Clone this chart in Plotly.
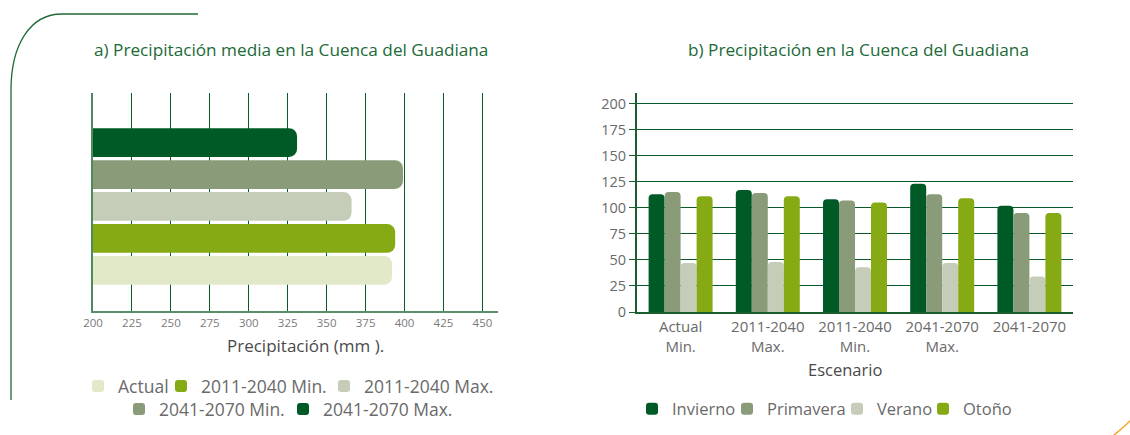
import plotly.graph_objects as go

W, H = 1130, 435

# ---- Data: chart a (mean precipitation, mm) ----
scen_a = ["Actual", "2011-2040 Min.", "2011-2040 Max.", "2041-2070 Min.", "2041-2070 Max."]
precip_a = [392, 394, 366, 399, 331]
colors_a = ["#e2e9c9", "#86aa14", "#c5cdb9", "#8a9b7a", "#005a26"]
ticks_a = [200, 225, 250, 275, 300, 325, 350, 375, 400, 425, 450]

# ---- Data: chart b (seasonal precipitation by scenario) ----
scen_b = ["Actual<br>Min.", "2011-2040<br>Max.", "2011-2040<br>Min.", "2041-2070<br>Max.", "2041-2070"]
seasons = ["Invierno", "Primavera", "Verano", "Otoño"]
invierno = [113, 117, 108, 123, 102]
primavera = [115, 114, 107, 113, 95]
verano = [47, 48, 43, 47, 34]
otono = [111, 111, 105, 109, 95]
colors_b = ["#005a26", "#8a9b7a", "#c5cdb9", "#86aa14"]
ticks_b = [0, 25, 50, 75, 100, 125, 150, 175, 200]

FONT = "Open Sans"
GREEN_T = "#1c6a38"
GRID = "#0b5a2a"
GRAY = "#6a6a6a"


def fx(px):
    return px / W


def fy(py):
    return 1 - py / H


fig = go.Figure()

# legend placement (swatch left edge, row centre) for each entry
leg_pos_a = [(92, 386), (175, 386), (338, 386), (133, 409), (297, 409)]
leg_pos_b = [(646, 409), (741, 409), (851, 409), (937, 409)]

legends = {}
k = 0


def new_legend(pos, size):
    global k
    k += 1
    key = "legend" if k == 1 else f"legend{k}"
    sx, sy = pos
    legends[key] = dict(
        orientation="h", x=fx(sx - 14), xanchor="left", y=fy(sy), yanchor="middle",
        font=dict(size=size, color=GRAY, family=FONT), bgcolor="rgba(0,0,0,0)",
        borderwidth=0,
    )
    return key


# chart a: one trace per scenario
for name, val, col, pos in zip(scen_a, precip_a, colors_a, leg_pos_a):
    fig.add_trace(go.Bar(
        x=[val], y=[name], orientation="h", name=name,
        marker=dict(color=col, cornerradius=8, line=dict(width=0)),
        width=0.9, offset=-0.45, xaxis="x", yaxis="y", legend=new_legend(pos, 17.5),
        hovertemplate="%{y}: %{x}<extra></extra>",
    ))

# chart b: grouped bars
for name, vals, col, pos in zip(seasons, [invierno, primavera, verano, otono], colors_b, leg_pos_b):
    fig.add_trace(go.Bar(
        x=scen_b, y=vals, name=name,
        marker=dict(color=col, cornerradius=4, line=dict(width=0)),
        xaxis="x2", yaxis="y2", legend=new_legend(pos, 16.5),
    ))

fig.update_layout(
    width=W, height=H, autosize=False,
    margin=dict(l=0, r=0, t=0, b=0),
    paper_bgcolor="white", plot_bgcolor="white",
    font=dict(family=FONT, color=GRAY, size=14),
    barmode="group", bargap=0.266, bargroupgap=0,
    showlegend=True,
    xaxis=dict(
        domain=[fx(93), fx(498)], anchor="y", range=[200, 460],
        tickvals=ticks_a, showgrid=True, gridcolor=GRID, gridwidth=1,
        showline=True, linecolor="#5b8f68", linewidth=2, zeroline=False,
        ticks="", tickfont=dict(size=11.5, color="#7a7a7a"), automargin=False,
    ),
    yaxis=dict(
        domain=[fy(311), fy(93)], anchor="x", type="category",
        categoryorder="array", categoryarray=scen_a,
        range=[-1.27, 5.55], showticklabels=False, showgrid=False,
        showline=True, linecolor="#4f8a5f", linewidth=2, zeroline=False,
        ticks="", automargin=False,
    ),
    xaxis2=dict(
        domain=[fx(637), fx(1073)], anchor="y2", type="category",
        showline=True, linecolor="#1a5e2e", linewidth=2, showgrid=False,
        ticks="", tickfont=dict(size=15, color=GRAY), automargin=False,
    ),
    yaxis2=dict(
        domain=[fy(312), fy(93)], anchor="x2", range=[0, 210],
        tickvals=ticks_b, showgrid=True, gridcolor=GRID, gridwidth=1,
        showline=True, linecolor="#1a5e2e", linewidth=2, zeroline=False,
        ticks="outside", ticklen=6, tickcolor="#1a5e2e",
        tickfont=dict(size=14.5, color=GRAY), automargin=False,
    ),
    **legends,
)

annots = [
    dict(text="a) Precipitación media en la Cuenca del Guadiana", x=fx(92), y=fy(50),
         xanchor="left", yanchor="middle", font=dict(size=17.2, color=GREEN_T)),
    dict(text="b) Precipitación en la Cuenca del Guadiana", x=fx(686), y=fy(50),
         xanchor="left", yanchor="middle", font=dict(size=17.2, color=GREEN_T)),
    dict(text="Precipitación (mm ).", x=fx(305), y=fy(345),
         xanchor="center", yanchor="middle", font=dict(size=17, color="#4a4a4a")),
    dict(text="Escenario", x=fx(845), y=fy(369),
         xanchor="center", yanchor="middle", font=dict(size=16.5, color="#4a4a4a")),
]
for a in annots:
    a.update(xref="paper", yref="paper", showarrow=False)
fig.update_layout(annotations=annots)

# decorative frame line (top-left) and orange corner arc (bottom-right)
frame = (f"M {fx(198)},{fy(14)} L {fx(62)},{fy(14)} "
         f"C {fx(30)},{fy(14)} {fx(11)},{fy(45)} {fx(11)},{fy(90)} "
         f"L {fx(11)},{fy(400)}")
arc = (f"M {fx(1113)},{fy(436)} C {fx(1119)},{fy(431)} {fx(1125)},{fy(426)} {fx(1131)},{fy(420)}")
fig.update_layout(shapes=[
    dict(type="path", path=frame, xref="paper", yref="paper",
         line=dict(color="#1f6b35", width=1.3), layer="above"),
    dict(type="path", path=arc, xref="paper", yref="paper",
         line=dict(color="#f5a623", width=1.5), layer="above"),
])

fig.write_html("out.html", config={"displayModeBar": False},
               post_script="document.body.style.margin='0px';")
